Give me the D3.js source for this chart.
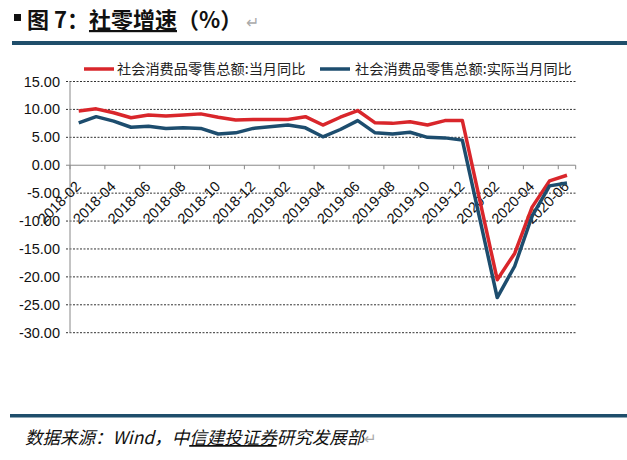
<!DOCTYPE html>
<html><head><meta charset="utf-8">
<script src="https://cdn.jsdelivr.net/npm/d3@7/dist/d3.min.js"></script>
<style>body{margin:0;background:#fff}svg{display:block}</style>
</head><body>
<script>
// ---- data ----
const allMonths = ["2018-02","2018-03","2018-04","2018-05","2018-06","2018-07","2018-08","2018-09","2018-10","2018-11","2018-12","2019-01",
 "2019-02","2019-03","2019-04","2019-05","2019-06","2019-07","2019-08","2019-09","2019-10","2019-11","2019-12","2020-01",
 "2020-02","2020-03","2020-04","2020-05","2020-06"];
const months = ["2018-02","2018-03","2018-04","2018-05","2018-06","2018-07","2018-08","2018-09","2018-10","2018-11","2018-12",
 "2019-02","2019-03","2019-04","2019-05","2019-06","2019-07","2019-08","2019-09","2019-10","2019-11","2019-12",
 "2020-02","2020-03","2020-04","2020-05","2020-06"];
const nominal = [9.7,10.1,9.4,8.5,9.0,8.8,9.0,9.2,8.6,8.1,8.2,
 8.2,8.7,7.2,8.6,9.8,7.6,7.5,7.8,7.2,8.0,8.0,
 -20.5,-15.8,-7.5,-2.8,-1.8];
const real = [7.6,8.7,7.9,6.8,7.0,6.6,6.7,6.6,5.6,5.8,6.6,
 7.2,6.7,5.1,6.4,8.0,5.8,5.6,5.9,5.0,4.9,4.5,
 -23.7,-18.1,-9.1,-3.7,-3.2];
const tickLabels = ["2018-02","2018-04","2018-06","2018-08","2018-10","2018-12","2019-02","2019-04","2019-06","2019-08","2019-10","2019-12","2020-02","2020-04","2020-06"];
const yTicks = [15,10,5,0,-5,-10,-15,-20,-25,-30];
const seriesNames = ["社会消费品零售总额:当月同比","社会消费品零售总额:实际当月同比"];
const colors = ["#d9262b","#1d4d6e"];

const W=627,H=460;
const svg=d3.select("body").append("svg").attr("width",W).attr("height",H);
const cjk="'Noto Sans CJK SC','Noto Sans',sans-serif";
const arial="'Liberation Sans',Arial,sans-serif";

// title
svg.append("rect").attr("x",14).attr("y",14).attr("width",7).attr("height",7).attr("fill","#111");
const t=svg.append("text").attr("x",27).attr("y",28).attr("font-family",cjk).attr("font-size",22).attr("font-weight","bold").attr("fill","#111");
t.append("tspan").text("图 7：");
t.append("tspan").attr("text-decoration","underline").text("社零增速");
t.append("tspan").text("（%）");
t.append("tspan").attr("font-weight","normal").attr("fill","#aaa").attr("font-size",16).attr("dx",4).text("↵");
svg.append("rect").attr("x",12).attr("y",41).attr("width",615).attr("height",4).attr("fill","#1f4e6b");

// scales
const x=d3.scaleBand().domain(allMonths).range([70,575.7]).padding(0);
const bw=x.bandwidth();
const cx=m=>x(m)+bw/2;
const y=d3.scaleLinear().domain([-30,15]).range([332.7,81.5]);

// gridlines
svg.append("g").selectAll("line").data(yTicks.filter(v=>v!==0)).join("line")
 .attr("x1",66).attr("x2",575.7).attr("y1",d=>y(d)).attr("y2",d=>y(d))
 .attr("stroke","#333").attr("stroke-width",1).attr("stroke-dasharray","2,1.5");
// y axis labels
const fmt=v=>d3.format(".2f")(v).replace("−","-");
svg.append("g").selectAll("text").data(yTicks).join("text")
 .attr("x",60).attr("y",d=>y(d)+5).attr("text-anchor","end")
 .attr("font-family",arial).attr("font-size",14.5).attr("fill","#111").text(fmt);
// axis lines
svg.append("line").attr("x1",70).attr("x2",70).attr("y1",y(15)).attr("y2",y(-30)).attr("stroke","#888").attr("stroke-width",1);
svg.append("line").attr("x1",66).attr("x2",575.7).attr("y1",y(0)).attr("y2",y(0)).attr("stroke","#888").attr("stroke-width",1);
const tickPos=allMonths.filter((m,i)=>i%2===0).map(m=>x(m)).concat([575.7]);
svg.append("g").selectAll("line").data(tickPos).join("line")
 .attr("x1",d=>d).attr("x2",d=>d).attr("y1",y(0)).attr("y2",y(0)+4).attr("stroke","#888");

// x labels
svg.append("g").selectAll("text").data(tickLabels).join("text")
 .attr("transform",d=>`translate(${cx(d)+3},${y(0)+22}) rotate(-45)`)
 .attr("text-anchor","end").attr("font-family",arial).attr("font-size",14.5).attr("fill","#111").text(d=>d);

// lines
const line=d3.line().x((d,i)=>cx(months[i])).y(d=>y(d));
[nominal,real].forEach((s,k)=>{
 svg.append("path").datum(s).attr("d",line).attr("fill","none")
  .attr("stroke",colors[k]).attr("stroke-width",3.5).attr("stroke-linejoin","round");
});

// legend
const leg=[{x:84,tx:117},{x:320,tx:355}];
leg.forEach((l,k)=>{
 svg.append("line").attr("x1",l.x).attr("x2",l.x+30).attr("y1",69).attr("y2",69).attr("stroke",colors[k]).attr("stroke-width",3.5);
 svg.append("text").attr("x",l.tx).attr("y",74).attr("font-family",cjk).attr("font-size",14.2).attr("fill","#222").text(seriesNames[k]);
});

// bottom rule & source
svg.append("rect").attr("x",10).attr("y",414).attr("width",617).attr("height",3.5).attr("fill","#1f4e6b");
const s=svg.append("text").attr("x",25).attr("y",444).attr("font-family",cjk).attr("font-size",17.5).attr("font-style","italic").attr("fill","#111");
s.append("tspan").text("数据来源：Wind，中");
s.append("tspan").attr("text-decoration","underline").text("信建投证券");
s.append("tspan").text("研究发展部");
s.append("tspan").attr("fill","#aaa").attr("font-style","normal").attr("font-size",15).text("↵");
</script>
</body></html>
